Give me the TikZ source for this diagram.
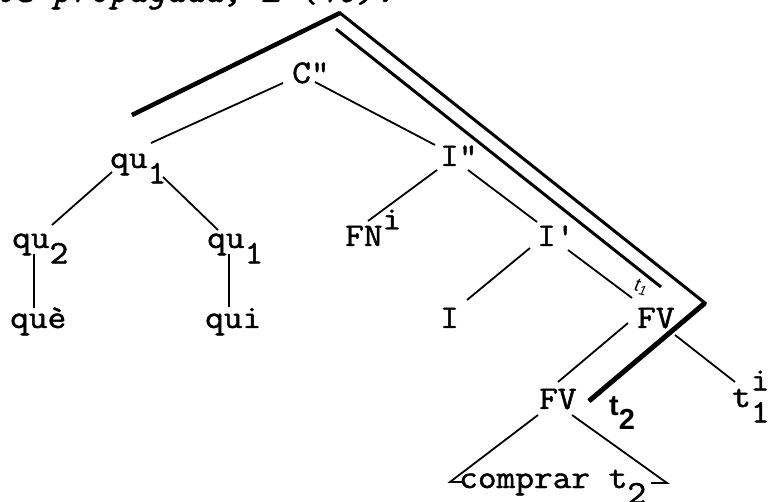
\documentclass[tikz,border=0pt]{standalone}
\usepackage{fontspec}
\setmonofont{Latin Modern Mono}[FakeBold=1.4, FakeStretch=1.1]
\newfontfamily\handfont{Liberation Sans}
\newcommand\lo[1]{\raisebox{-0.47em}[0pt][0pt]{#1}}
\newcommand\hi[1]{\raisebox{0.5em}[0pt][0pt]{#1}}
\tikzset{
  lab/.style={inner sep=0pt, anchor=base west, font=\ttfamily\fontsize{33}{33}\selectfont},
  edge/.style={line width=1.8pt},
  heavy/.style={line width=4.5pt},
  medium/.style={line width=3pt},
}
\begin{document}
\begin{tikzpicture}[x=1pt,y=-1pt]
\useasboundingbox (0,0) rectangle (771,502);
% cut-off line of running text at the top
\node[inner sep=0pt, anchor=base west, font=\ttfamily\itshape\fontsize{33}{33}\selectfont] (toptext) at (-6,2) {ve propagada, L (70).};
% tree labels
\node[lab] (C) at (292,83) {C"};
\node[lab] (qu) at (110,168) {qu\rlap{\lo{1}}};
\node[lab] (qua) at (12,248) {qu\rlap{\lo{2}}};
\node[lab] (qub) at (207,248) {qu\rlap{\lo{1}}};
\node[lab] (que) at (10,328) {què};
\node[lab] (qui) at (205,328) {qui};
\node[lab] (FN) at (345,246) {FN\rlap{\hi{i}}};
\node[lab] (Ipp) at (440,166) {I"};
\node[lab] (Ip) at (537,246) {I'};
\node[lab] (I) at (440,328) {I};
\node[lab] (FV) at (637,328) {FV};
\node[lab] (FVb) at (539,409) {FV};
\node[lab] (ti) at (732,407) {t\rlap{\lo{1}}\rlap{\hi{i}}};
\node[lab] (cmp) at (459,488) {comprar t\lo{2}};
% handwritten traces
\node[inner sep=0pt, rotate=-12, font=\handfont\itshape\fontsize{19}{19}\selectfont] (tone) at (641,287) {t\textsubscript{1}};
\node[inner sep=0pt, anchor=base west, font=\handfont\bfseries\fontsize{29}{29}\selectfont] (ttwo) at (609,416) {t\lo{2}};
% edge end points
\coordinate (e1a) at (283,83);  \coordinate (e1b) at (151,143);
\coordinate (e2a) at (315,82);  \coordinate (e2b) at (435,145);
\coordinate (e3a) at (112,172); \coordinate (e3b) at (52,225);
\coordinate (e4a) at (163,177); \coordinate (e4b) at (218,230);
\coordinate (e5a) at (34,254);  \coordinate (e5b) at (34,308);
\coordinate (e6a) at (229,254); \coordinate (e6b) at (229,307);
\coordinate (e7a) at (437,170); \coordinate (e7b) at (368,221);
\coordinate (e8a) at (468,170); \coordinate (e8b) at (537,222);
\coordinate (e9a) at (530,248); \coordinate (e9b) at (467,300);
\coordinate (e10a) at (568,250); \coordinate (e10b) at (632,298);
\coordinate (e11a) at (628,323); \coordinate (e11b) at (558,382);
\coordinate (e12a) at (675,335); \coordinate (e12b) at (735,382);
\coordinate (e13a) at (538,415); \coordinate (e13b) at (450,482); \coordinate (e13c) at (463,482);
\coordinate (e14a) at (572,415); \coordinate (e14b) at (667,483); \coordinate (e14c) at (651,483);
% tree edges
\draw[edge] (e1a) -- (e1b);
\draw[edge] (e2a) -- (e2b);
\draw[edge] (e3a) -- (e3b);
\draw[edge] (e4a) -- (e4b);
\draw[edge] (e5a) -- (e5b);
\draw[edge] (e6a) -- (e6b);
\draw[edge] (e7a) -- (e7b);
\draw[edge] (e8a) -- (e8b);
\draw[edge] (e9a) -- (e9b);
\draw[edge] (e10a) -- (e10b);
\draw[edge] (e11a) -- (e11b);
\draw[edge] (e12a) -- (e12b);
\draw[edge] (e13a) -- (e13b) -- (e13c);
\draw[edge] (e14a) -- (e14b) -- (e14c);
% movement path lines
\coordinate (kstart) at (132,115);
\coordinate (apex) at (340,13);
\coordinate (corner) at (705,303);
\coordinate (kend) at (589,401);
\coordinate (in1) at (336,29);
\coordinate (in2) at (661,287);
\draw[medium, line join=miter] (kstart) -- (apex) -- (corner) -- (kend);
\draw[heavy] (kstart) -- (apex);
\draw[heavy, line width=5pt] (corner) -- (kend);
\draw[medium] (in1) -- (in2);
\end{tikzpicture}
\end{document}
